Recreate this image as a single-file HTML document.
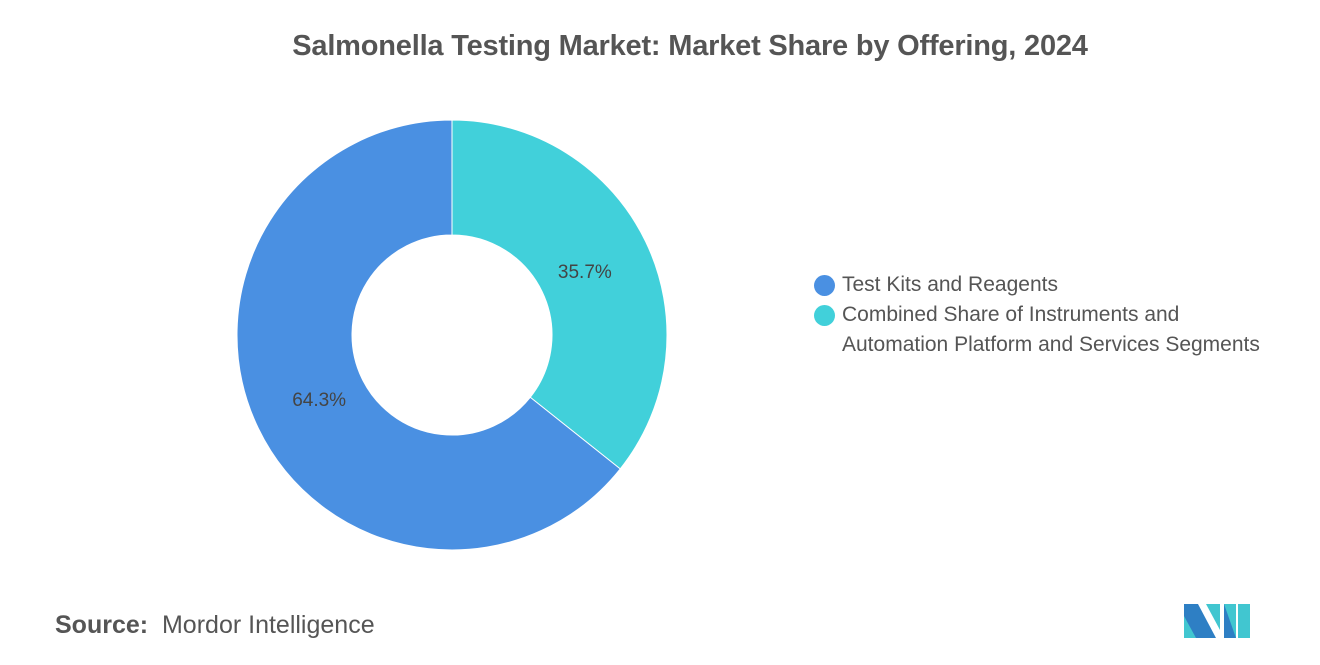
<!DOCTYPE html>
<html><head><meta charset="utf-8"><style>
body{margin:0;width:1320px;height:665px;background:#fff;font-family:"Liberation Sans",sans-serif;position:relative;overflow:hidden}
.t{position:absolute}
</style></head><body>
<div class="t" style="left:0;width:1380px;top:30px;text-align:center;font-size:29px;font-weight:bold;color:#555;letter-spacing:-0.2px">Salmonella Testing Market: Market Share by Offering, 2024</div>
<svg id="chart" width="1320" height="665" style="position:absolute;left:0;top:0"></svg>
<div class="t" style="left:814px;top:270px;font-size:21px;color:#555;line-height:30px">
 <div style="position:relative;padding-left:28px"><span style="position:absolute;left:0;top:5px;width:21px;height:21px;border-radius:50%;background:#4a90e2"></span>Test Kits and Reagents</div>
 <div style="position:relative;padding-left:28px"><span style="position:absolute;left:0;top:5px;width:21px;height:21px;border-radius:50%;background:#41d0da"></span>Combined Share of Instruments and<br>Automation Platform and Services Segments</div>
</div>
<div class="t" style="left:55px;top:611px;font-size:25px;color:#555"><b>Source:</b>&nbsp; Mordor Intelligence</div>
<svg class="t" style="left:1184px;top:604px" width="66" height="34">
 <polygon points="0,0 14,0 32,34 0,34" fill="#2e7fc4"/>
 <polygon points="0,12 12,34 0,34" fill="#41c6d0"/>
 <polygon points="22,0 36,0 36,26" fill="#41c6d0"/>
 <polygon points="40,0 52,0 52,34 40,34" fill="#41c6d0"/>
 <polygon points="40,0 52,34 40,34" fill="#2e7fc4"/>
 <polygon points="54,0 66,0 66,34 54,34" fill="#41c6d0"/>
</svg>
<script>
const labels=["Combined Share of Instruments and Automation Platform and Services Segments","Test Kits and Reagents"];
const values=[35.7,64.3];
const colors=["#41d0da","#4a90e2"];
const svg=document.getElementById('chart');
const cx=452,cy=335,R=215,r=100;
const total=values.reduce((a,b)=>a+b,0);
let a0=0;
const pt=(a,rad)=>[cx+rad*Math.sin(a),cy-rad*Math.cos(a)];
values.forEach((v,i)=>{
 const a1=a0+v/total*2*Math.PI;
 const lg=(a1-a0)>Math.PI?1:0;
 const [x1,y1]=pt(a0,R),[x2,y2]=pt(a1,R),[x3,y3]=pt(a1,r),[x4,y4]=pt(a0,r);
 const p=document.createElementNS('http://www.w3.org/2000/svg','path');
 p.setAttribute('d',`M${x1},${y1}A${R},${R} 0 ${lg} 1 ${x2},${y2}L${x3},${y3}A${r},${r} 0 ${lg} 0 ${x4},${y4}Z`);
 p.setAttribute('fill',colors[i]);p.setAttribute('stroke','#fff');p.setAttribute('stroke-width','1');
 
 
 svg.appendChild(p);
 const am=(a0+a1)/2;const [tx,ty]=pt(am,(R+r)/2-10);
 const t=document.createElementNS('http://www.w3.org/2000/svg','text');
 t.setAttribute('x',tx);t.setAttribute('y',ty+7);t.setAttribute('text-anchor','middle');
 t.setAttribute('font-size','19');t.setAttribute('fill','#444');t.setAttribute('font-family','Liberation Sans');
 t.textContent=v.toFixed(1)+'%';
 
 
 svg.appendChild(t);
 a0=a1;
});
</script>
</body></html>
